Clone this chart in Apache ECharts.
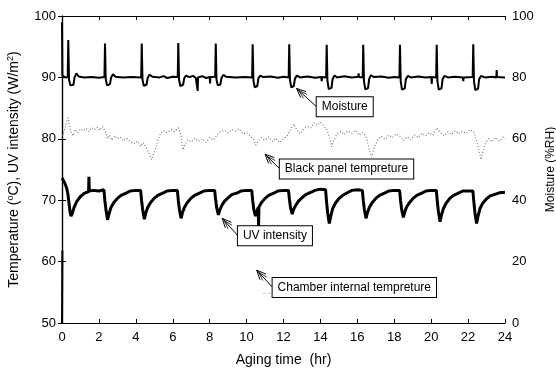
<!DOCTYPE html>
<html><head><meta charset="utf-8">
<script src="https://cdn.jsdelivr.net/npm/echarts@6/dist/echarts.min.js"></script>
<style>html,body{margin:0;padding:0;background:#fff;overflow:hidden}#c{width:556px;height:374px}</style>
</head><body><div id="c"></div>
<script>
// ---- data (x = aging time in hr) ----
const xTickValues = [0,2,4,6,8,10,12,14,16,18,20,22,24];
const leftTickValues = [50,60,70,80,90,100];
const rightTickValues = [0,20,40,60,80,100];

// Moisture (%RH, right axis)
const moisture = [[0.00,98.0],[0.02,80.6],[0.10,80.2],[0.20,79.9],[0.31,80.2],[0.34,92.2],[0.38,79.4],[0.45,77.4],[0.62,77.6],[0.68,80.0],[0.78,81.3],[0.90,80.3],[1.20,80.0],[1.60,80.1],[2.00,79.9],[2.30,80.1],
[2.33,91.0],[2.37,79.4],[2.44,77.4],[2.60,77.8],[2.66,80.0],[2.76,81.0],[2.90,80.2],[3.30,80.0],[3.80,80.1],[4.29,80.0],
[4.32,91.0],[4.36,79.3],[4.43,77.3],[4.58,77.6],[4.64,79.8],[4.74,80.9],[4.90,80.2],[5.30,80.0],[5.50,80.4],[5.70,79.8],[6.00,80.2],[6.27,80.1],
[6.30,91.2],[6.34,79.3],[6.41,77.2],[6.56,77.6],[6.62,79.7],[6.72,80.6],[6.90,80.1],[7.10,80.5],[7.25,79.8],[7.33,80.0],[7.35,75.6],[7.37,80.0],[7.60,80.4],[7.80,79.8],[8.00,80.1],[8.02,78.0],[8.04,80.1],[8.30,80.2],
[8.33,91.0],[8.37,79.2],[8.44,77.4],[8.58,77.7],[8.64,79.8],[8.74,80.8],[8.90,80.2],[9.40,80.0],[9.90,80.1],[10.30,80.0],
[10.33,90.8],[10.37,79.0],[10.44,76.8],[10.58,77.2],[10.64,79.7],[10.74,80.6],[10.90,80.1],[11.30,80.3],[11.70,79.9],[12.00,80.2],[12.28,80.0],
[12.31,90.8],[12.35,79.1],[12.42,76.8],[12.56,77.2],[12.62,79.6],[12.72,80.6],[12.90,80.0],[13.30,80.3],[13.70,79.9],[14.05,80.1],[14.07,78.8],[14.09,80.1],[14.31,80.0],
[14.34,90.6],[14.38,78.9],[14.45,76.2],[14.60,76.6],[14.66,79.5],[14.76,80.6],[14.90,80.0],[15.30,80.4],[15.70,80.0],[16.05,80.2],[16.07,81.3],[16.09,80.1],[16.29,80.0],
[16.32,90.6],[16.36,78.8],[16.43,76.1],[16.58,76.5],[16.64,79.5],[16.74,80.7],[16.90,80.1],[17.30,80.3],[17.70,79.9],[18.00,80.1],[18.28,80.0],
[18.31,90.6],[18.35,78.8],[18.42,76.0],[18.57,76.4],[18.63,79.4],[18.73,80.5],[18.90,80.0],[19.30,80.3],[19.70,80.0],[20.01,80.1],[20.03,77.9],[20.05,80.1],[20.27,80.0],
[20.30,90.6],[20.34,78.8],[20.41,76.0],[20.56,76.4],[20.62,79.4],[20.72,80.5],[20.90,80.0],[21.30,80.2],[21.72,80.0],[21.74,78.8],[21.76,80.0],[22.25,80.1],
[22.28,90.8],[22.32,78.7],[22.39,75.9],[22.54,76.3],[22.60,79.4],[22.70,80.5],[22.90,80.0],[23.30,80.2],[23.53,80.0],[23.55,82.4],[23.57,80.1],[24.00,80.0]];

// UV intensity (W/m2, left axis)
const uvIntensity = [[0.00,73.6],[0.05,73.3],[0.15,72.8],[0.25,72.0],[0.32,71.0],[0.38,69.5],[0.44,68.0],[0.49,67.4],[0.56,67.9],[0.65,68.8],[0.80,69.8],[1.00,70.6],[1.20,71.1],[1.44,71.4],[1.46,73.8],[1.48,71.5],[1.70,71.6],[2.00,71.5],[2.27,71.7],
[2.32,70.0],[2.38,68.5],[2.47,66.8],[2.55,67.8],[2.65,68.8],[2.80,69.6],[3.00,70.3],[3.20,70.8],[3.50,71.2],[3.70,71.5],[4.00,71.6],[4.26,71.6],
[4.31,70.0],[4.37,68.5],[4.46,66.9],[4.54,67.9],[4.64,68.8],[4.79,69.6],[4.99,70.3],[5.19,70.8],[5.49,71.2],[5.69,71.5],[6.00,71.6],[6.25,71.6],
[6.30,70.0],[6.36,68.5],[6.45,67.05],[6.53,68.0],[6.63,68.8],[6.78,69.6],[6.98,70.3],[7.18,70.8],[7.48,71.2],[7.68,71.5],[8.00,71.6],[8.27,71.6],
[8.32,70.2],[8.38,68.8],[8.47,67.6],[8.55,68.4],[8.65,69.1],[8.80,69.8],[9.00,70.4],[9.20,70.9],[9.50,71.2],[9.70,71.5],[10.00,71.6],[10.28,71.6],
[10.33,70.0],[10.39,68.5],[10.48,67.4],[10.56,68.2],[10.63,68.8],[10.65,65.8],[10.67,68.9],[10.80,69.6],[11.00,70.3],[11.20,70.8],[11.50,71.2],[11.70,71.5],[12.00,71.6],[12.27,71.6],
[12.32,70.2],[12.38,68.8],[12.47,67.75],[12.55,68.5],[12.65,69.1],[12.80,69.8],[13.00,70.4],[13.20,70.9],[13.50,71.3],[13.70,71.6],[14.00,71.8],[14.28,71.7],
[14.33,69.8],[14.39,68.0],[14.48,66.2],[14.56,67.4],[14.66,68.6],[14.81,69.5],[15.01,70.3],[15.21,70.8],[15.51,71.3],[15.71,71.6],[16.00,71.7],[16.27,71.6],
[16.32,70.0],[16.38,68.5],[16.47,67.05],[16.55,68.0],[16.65,68.8],[16.80,69.6],[17.00,70.3],[17.20,70.8],[17.50,71.2],[17.70,71.5],[18.00,71.6],[18.29,71.6],
[18.34,70.0],[18.40,68.5],[18.49,67.2],[18.57,68.1],[18.67,68.9],[18.82,69.6],[19.02,70.3],[19.22,70.8],[19.52,71.2],[19.72,71.5],[20.00,71.6],[20.28,71.6],
[20.33,69.9],[20.39,68.2],[20.48,66.5],[20.56,67.6],[20.66,68.6],[20.81,69.5],[21.01,70.3],[21.21,70.8],[21.51,71.2],[21.71,71.5],[22.00,71.5],[22.26,71.5],
[22.31,69.8],[22.37,68.0],[22.46,66.2],[22.54,67.4],[22.64,68.6],[22.79,69.5],[22.99,70.2],[23.19,70.7],[23.49,71.0],[23.69,71.2],[24.00,71.3]];

// Black panel temperature (deg C, left axis)
const blackPanel = [[0.00,80.0],[0.05,80.8],[0.15,81.5],[0.25,82.8],[0.34,83.4],[0.42,82.0],[0.50,81.0],[0.60,80.5],[0.70,81.5],[0.85,81.0],[1.00,81.6],[1.15,81.3],[1.30,81.7],[1.45,81.2],[1.60,81.8],[1.75,81.5],[1.90,81.9],[2.05,81.4],[2.20,82.0],[2.30,82.3],[2.38,81.0],[2.45,80.0],[2.55,80.6],[2.70,79.8],[2.85,80.5],[3.00,80.0],[3.15,80.3],[3.30,79.7],[3.50,80.1],[3.70,79.5],[3.90,79.2],[4.10,79.6],[4.25,78.8],[4.40,79.4],[4.55,78.6],[4.70,77.8],[4.85,76.6],[4.95,77.5],[5.05,78.2],[5.20,79.8],[5.35,81.0],[5.50,81.3],[5.70,81.0],[5.90,81.5],[6.10,81.2],[6.30,81.8],[6.45,80.5],[6.55,78.2],[6.65,79.0],[6.80,79.8],[7.00,79.5],[7.20,80.1],[7.40,79.6],[7.60,80.0],[7.80,79.4],[8.00,80.2],[8.20,79.8],[8.40,80.6],[8.60,81.2],[8.80,81.4],[9.00,81.0],[9.20,81.5],[9.40,81.3],[9.60,81.6],[9.80,80.8],[10.00,81.0],[10.20,80.5],[10.40,79.8],[10.50,79.0],[10.60,79.5],[10.80,80.2],[11.00,79.8],[11.20,80.3],[11.40,79.6],[11.60,80.1],[11.80,79.4],[12.00,80.0],[12.20,80.5],[12.40,81.6],[12.55,82.4],[12.70,81.5],[12.90,80.8],[13.10,81.6],[13.30,82.0],[13.50,81.8],[13.65,82.6],[13.80,82.2],[14.00,82.7],[14.20,82.0],[14.35,81.5],[14.50,80.2],[14.60,78.7],[14.70,79.6],[14.90,80.8],[15.10,81.2],[15.30,80.7],[15.50,81.3],[15.70,80.9],[15.90,81.4],[16.10,80.6],[16.30,81.0],[16.50,80.2],[16.65,78.2],[16.78,77.0],[16.90,78.5],[17.10,79.8],[17.30,80.4],[17.50,79.9],[17.70,80.6],[17.90,80.2],[18.10,80.8],[18.30,80.4],[18.50,79.7],[18.70,80.3],[18.90,79.9],[19.10,80.6],[19.30,80.2],[19.50,80.9],[19.70,80.5],[19.90,81.0],[20.10,80.6],[20.30,81.8],[20.50,81.0],[20.70,80.5],[20.90,81.1],[21.10,80.7],[21.30,81.3],[21.50,80.8],[21.70,81.2],[21.90,80.9],[22.10,81.5],[22.30,81.2],[22.45,79.8],[22.60,78.0],[22.70,76.6],[22.80,77.8],[22.95,79.3],[23.10,80.0],[23.30,79.5],[23.50,80.2],[23.70,79.6],[23.90,80.3],[24.00,80.0]];

// Chamber internal temperature (deg C, left axis) - only faintly visible
const chamberStart = [[0.00,50.0],[0.02,61.8]];
const chamberTrace = [[10.9,54.8],[11.6,54.9],[12.4,54.7],[13.2,54.9],[14.0,54.8],[14.8,54.9],[15.6,54.7],[16.4,54.9],[17.2,54.8],[18.0,54.9],[18.8,54.7],[19.6,54.9],[20.4,54.8]];

// annotation labels: arrow tip and box anchor (data coords on left axis)
const annoText = ['Moisture','Black panel tempreture','UV intensity','Chamber internal tempreture'];
const annoTip = [[12.71,88.2],[11.0,77.5],[8.68,67.05],[10.55,58.6]];
const annoBox = [[13.8,85.2],[11.8,75.1],[9.53,64.2],[11.41,55.8]];

const FONT = '"Liberation Sans", Arial, Helvetica, sans-serif';
const chart = echarts.init(document.getElementById('c'), null, {renderer:'canvas'});
const axLine = {show:true, lineStyle:{color:'#000', width:1.2}};
const tickIn = {show:true, inside:true, length:4, lineStyle:{color:'#000', width:1}};
const lbl = {color:'#000', fontSize:13, fontFamily:FONT};

const option = {
  animation:false,
  backgroundColor:'#fff',
  grid:{left:62, right:51, top:16, bottom:51, containLabel:false, outerBoundsMode:'none'},
  xAxis:[
    {type:'value', min:0, max:24, interval:2, position:'bottom',
     name:'Aging time  (hr)', nameLocation:'middle', nameGap:30,
     nameTextStyle:{color:'#000', fontSize:14, fontFamily:FONT},
     axisLine:axLine, axisTick:tickIn, splitLine:{show:false},
     axisLabel:Object.assign({margin:8}, lbl)},
    {type:'value', min:0, max:24, interval:2, position:'top',
     axisLine:axLine, axisTick:tickIn, axisLabel:{show:false}, splitLine:{show:false}}
  ],
  yAxis:[
    {type:'value', min:50, max:100, interval:10, position:'left',
     name:'Temperature ({s|o}C), UV intensity (W/m{s|2})', nameLocation:'middle', nameGap:40,
     nameTextStyle:{color:'#000', fontSize:14, fontFamily:FONT, lineHeight:16,
       rich:{s:{fontSize:9, fontFamily:FONT, color:'#000', verticalAlign:'top', lineHeight:10}}},
     axisLine:axLine, axisTick:tickIn, splitLine:{show:false},
     axisLabel:Object.assign({margin:6}, lbl)},
    {type:'value', min:0, max:100, interval:20, position:'right',
     name:'Moisture (%RH)', nameLocation:'middle', nameGap:37,
     nameTextStyle:{color:'#000', fontSize:12, fontFamily:FONT},
     axisLine:axLine, axisTick:tickIn, splitLine:{show:false},
     axisLabel:Object.assign({margin:7}, lbl)}
  ],
  series:[
    {name:'Black panel tempreture', type:'line', data:blackPanel, xAxisIndex:0, yAxisIndex:0, showSymbol:false,
     lineStyle:{color:'#777', width:1.2, type:[1,2]}, z:2},
    {name:'Chamber trace', type:'line', data:chamberTrace, xAxisIndex:0, yAxisIndex:0, showSymbol:false,
     lineStyle:{color:'#bbb', width:1, type:[2,3]}, z:2},
    {name:'Chamber internal tempreture', type:'line', data:chamberStart, xAxisIndex:0, yAxisIndex:0, showSymbol:false,
     lineStyle:{color:'#000', width:2}, z:3},
    {name:'UV intensity', type:'line', data:uvIntensity, xAxisIndex:0, yAxisIndex:0, showSymbol:false,
     lineStyle:{color:'#000', width:3}, z:3},
    {name:'Moisture', type:'line', data:moisture, xAxisIndex:0, yAxisIndex:1, showSymbol:false,
     lineStyle:{color:'#000', width:2}, z:3}
  ]
};
chart.setOption(option);

// annotations positioned through the chart's own coordinate system
const g = [];
for (let i = 0; i < annoText.length; i++) {
  const tip = chart.convertToPixel({xAxisIndex:0, yAxisIndex:0}, annoTip[i]);
  const box = chart.convertToPixel({xAxisIndex:0, yAxisIndex:0}, annoBox[i]);
  const dx = box[0]-tip[0], dy = box[1]-tip[1];
  const len = Math.sqrt(dx*dx+dy*dy);
  const ux = dx/len, uy = dy/len;
  const rot = (a, L) => [tip[0] + L*(ux*Math.cos(a) - uy*Math.sin(a)), tip[1] + L*(ux*Math.sin(a) + uy*Math.cos(a))];
  const A = 0.42, L = 10;
  g.push({type:'polyline', z:100, shape:{points:[rot(A,L), tip, rot(-A,L)]}, style:{stroke:'#000', lineWidth:1, fill:null}});
  g.push({type:'polyline', z:100, shape:{points:[rot(0.22,L+2), [tip[0]+ux*3, tip[1]+uy*3], rot(-0.22,L+2)]}, style:{stroke:'#000', lineWidth:0.8, fill:null}});
  g.push({type:'line', z:100, shape:{x1:tip[0], y1:tip[1], x2:box[0], y2:box[1]}, style:{stroke:'#000', lineWidth:1}});
  g.push({type:'text', z:101, x:box[0], y:box[1], style:{text:annoText[i], font:'12px '+FONT, fill:'#000',
    align:'left', verticalAlign:'middle', backgroundColor:'#fff', borderColor:'#000', borderWidth:1, padding:[4,5,3,5]}});
}
chart.setOption({graphic:g});
</script>
</body></html>
